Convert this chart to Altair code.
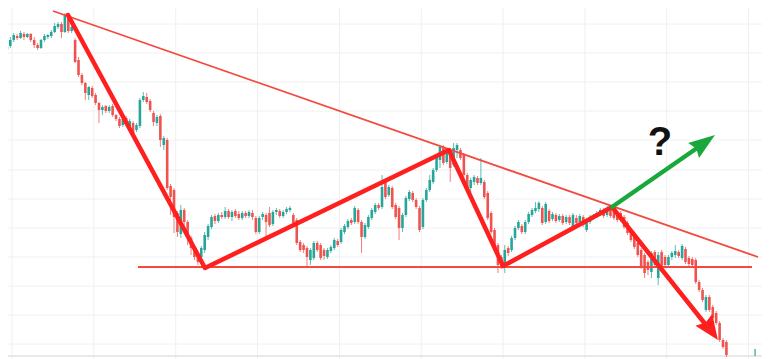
import altair as alt
import pandas as pd

# ---- candle data (price units, one candle per period) ----
opens = [303,310,314,320,324,322,326,323,326,320,315,312,320,323,324,328,333,336,328,344,
         329,320,300,285,277,265,272,265,257,250,254,249,254,245,241,235,242,234,237,230,
         234,260,263,259,247,237,244,215,220,174,170,147,126,150,138,122,112,105,103,110,
         123,133,144,139,145,143,149,143,149,146,142,147,144,147,142,128,143,145,147,136,
         148,149,144,148,150,145,140,118,115,112,100,102,117,115,110,103,109,112,119,118,
         128,133,140,138,150,138,123,133,142,148,155,153,178,165,172,155,152,132,145,161,
         167,160,152,133,160,170,178,190,200,213,198,210,195,210,210,205,185,172,178,182,
         177,178,167,147,130,115,103,93,112,110,122,132,134,128,138,145,149,151,152,138,
         149,141,145,140,144,138,143,133,142,138,143,130,138,142,144,146,150,145,150,148,
         145,147,143,137,130,123,117,110,105,98,88,108,82,108,103,95,103,105,108,102,
         111,102,101,100,78,70,50,63,53,47,37,20,18]
highs = [313,317,323,327,326,329,328,327,327,323,317,321,326,326,330,337,338,338,347,347,
         335,322,303,287,278,274,274,267,258,255,255,255,256,246,243,243,244,241,239,237,
         262,268,267,261,249,245,246,224,222,176,172,149,155,152,140,124,114,108,114,128,
         136,145,146,147,148,153,151,150,151,149,149,149,150,150,144,144,148,147,153,150,
         152,151,150,153,154,147,142,120,117,114,112,119,119,117,112,112,115,122,121,132,
         136,141,142,154,152,140,137,145,152,157,157,185,180,175,174,157,154,147,164,170,
         169,162,154,162,172,185,192,205,215,215,212,212,217,217,212,207,187,182,185,184,
         202,180,169,149,132,117,105,115,114,124,134,140,136,140,148,152,158,159,154,158,
         151,148,147,146,146,145,145,147,145,146,145,141,145,146,149,152,152,154,153,150,
         147,149,145,139,132,125,119,112,107,100,109,110,108,110,105,105,109,115,110,116,
         113,104,103,102,80,72,65,65,55,49,39,22,20]
lows = [300,308,312,318,320,321,320,322,318,312,310,311,318,321,322,327,331,322,327,327,
        327,297,283,275,260,260,262,255,237,245,247,247,243,239,232,233,234,232,222,228,
        232,258,256,248,234,234,213,210,170,145,127,123,122,134,115,105,100,95,100,107,
        120,131,136,137,141,141,141,139,142,140,140,142,142,140,126,126,140,122,133,134,
        145,142,142,146,148,135,115,108,107,93,95,100,108,100,100,101,107,110,113,116,
        126,131,135,136,136,107,121,131,140,146,150,151,161,163,151,141,120,128,143,159,
        158,151,128,131,158,168,176,188,192,195,196,178,193,202,200,182,168,167,175,175,
        175,161,140,126,108,87,91,87,104,108,120,130,126,126,136,143,147,148,135,136,
        137,139,137,138,135,136,135,131,135,136,133,128,136,140,142,144,142,143,142,140,
        138,138,131,125,118,111,103,91,82,85,82,93,75,91,93,93,100,102,102,100,
        96,94,93,76,68,58,48,48,40,35,18,11,3]
closes = [310,314,320,325,322,327,323,326,320,315,312,320,324,325,328,334,336,328,345,329,
          333,298,285,277,267,273,264,257,250,253,249,253,245,241,234,241,236,239,225,235,
          260,264,258,250,238,243,220,222,172,163,143,128,150,138,122,112,103,98,112,125,
          134,143,139,145,143,149,143,148,144,142,147,144,148,143,128,142,146,138,135,148,
          150,144,148,151,152,137,117,110,110,103,110,117,110,102,104,110,113,120,115,130,
          134,139,137,152,138,123,135,143,150,155,152,173,163,173,153,143,132,145,162,168,
          160,153,130,160,170,180,190,203,213,197,210,192,212,215,202,185,170,180,183,177,
          182,163,142,128,110,95,93,110,107,122,132,138,128,138,146,150,152,157,137,156,
          139,146,139,144,137,143,137,145,137,144,135,139,143,144,147,150,144,152,144,142,
          140,140,133,127,120,113,105,93,87,90,107,95,105,93,95,103,107,109,104,114,
          98,96,95,78,70,60,63,50,42,37,20,13,5]

# ---- reference grid (period index / price) ----
grid_x = [2.5, 26.5, 50.5, 74.5, 98.5, 122.5, 146.5, 170.5, 194.5, 218.5]
grid_y = [16, 45, 74, 103, 132, 161, 190, 220, 249, 278, 307, 336]
base_price = [4]

# ---- drawn annotations (period index / price) ----
resist_i = [14.52, 221.26]
resist_p = [349, 103]
support_i = [39.44, 219.5]
support_p = [93, 93]
zig_i = [18.91, 59.09, 130.6, 146.5, 178.45, 206.0]
zig_p = [345, 92, 210, 94, 153, 35]
green_i = [178.45, 203.4]
green_p = [153, 212]
red_tip = (209.5, 20)
green_tip = (208.65, 225)
q_pos = (192.5, 205)
last_tick_i = [220.4]
last_tick_lo = [4]
last_tick_hi = [11]

n = len(closes)
df = pd.DataFrame({
    "i": list(range(n)), "open": opens, "high": highs, "low": lows, "close": closes,
})
df["dir"] = ["up" if c >= o else "down" for o, c in zip(opens, closes)]

xs = alt.Scale(domain=[1.3196, 222.434], nice=False, zero=False)
ys = alt.Scale(domain=[1, 352], nice=False, zero=False)
cscale = alt.Scale(domain=["up", "down"], range=["#26a69a", "#ef5350"])

X = lambda f: alt.X(f, type="quantitative", scale=xs, axis=None)
Y = lambda f: alt.Y(f, type="quantitative", scale=ys, axis=None)

gv = alt.Chart(pd.DataFrame({"i": grid_x})).mark_rule(color="#f0f0f0", strokeWidth=1).encode(x=X("i"))
gh = alt.Chart(pd.DataFrame({"p": grid_y})).mark_rule(color="#f0f0f0", strokeWidth=1).encode(y=Y("p"))
base = alt.Chart(pd.DataFrame({"p": base_price})).mark_rule(color="#e2e2e2", strokeWidth=1.5).encode(y=Y("p"))

cbase = alt.Chart(df)
wicks = cbase.mark_rule(strokeWidth=1, opacity=0.75).encode(
    x=X("i"), y=Y("low"), y2="high",
    color=alt.Color("dir:N", scale=cscale, legend=None))
bodies = cbase.mark_rule(strokeWidth=2.6).encode(
    x=X("i"), y=Y("open"), y2="close",
    color=alt.Color("dir:N", scale=cscale, legend=None))

tick = alt.Chart(pd.DataFrame({"i": last_tick_i, "lo": last_tick_lo, "hi": last_tick_hi})).mark_rule(
    color="#26a69a", strokeWidth=1.2).encode(x=X("i"), y=Y("lo"), y2="hi")

def line_df(xi, pv):
    return pd.DataFrame({"i": xi, "p": pv, "k": list(range(len(xi)))})

resist = alt.Chart(line_df(resist_i, resist_p)).mark_line(color="#f4493e", strokeWidth=1.8).encode(
    x=X("i"), y=Y("p"), order="k:Q")
support = alt.Chart(line_df(support_i, support_p)).mark_line(color="#f4493e", strokeWidth=1.8).encode(
    x=X("i"), y=Y("p"), order="k:Q")
zig = alt.Chart(line_df(zig_i, zig_p)).mark_line(
    color="#ff1f1f", strokeWidth=4.5, strokeJoin="round", strokeCap="round").encode(
    x=X("i"), y=Y("p"), order="k:Q")
gline = alt.Chart(line_df(green_i, green_p)).mark_line(
    color="#1aa83c", strokeWidth=4.5, strokeCap="round").encode(
    x=X("i"), y=Y("p"), order="k:Q")

red_head = alt.Chart(pd.DataFrame({"i": [red_tip[0]], "p": [red_tip[1]]})).mark_point(
    shape="M0,0L0.84,2L0,1.75L-0.84,2Z", filled=True, size=600, angle=145, opacity=1,
    color="#ff1f1f", strokeWidth=0).encode(x=X("i"), y=Y("p"))
green_head = alt.Chart(pd.DataFrame({"i": [green_tip[0]], "p": [green_tip[1]]})).mark_point(
    shape="M0,0L0.7,2L0,1.75L-0.7,2Z", filled=True, size=700, angle=54, opacity=1,
    color="#1aa83c", strokeWidth=0).encode(x=X("i"), y=Y("p"))

qmark = alt.Chart(pd.DataFrame({"i": [q_pos[0]], "p": [q_pos[1]], "t": ["?"]})).mark_text(
    fontSize=40, fontWeight="bold", font="Liberation Sans", color="#111111",
    align="center", baseline="alphabetic").encode(x=X("i"), y=Y("p"), text="t:N")

chart = alt.layer(gv, gh, base, wicks, bodies, tick, resist, support, zig, gline,
                  red_head, green_head, qmark).properties(
    width=754, height=351, padding=0, autosize=alt.AutoSizeParams(type="none"),
    background="white",
).configure_view(stroke=None)

chart.save("out.html", embed_options={"renderer": "svg", "actions": False})
